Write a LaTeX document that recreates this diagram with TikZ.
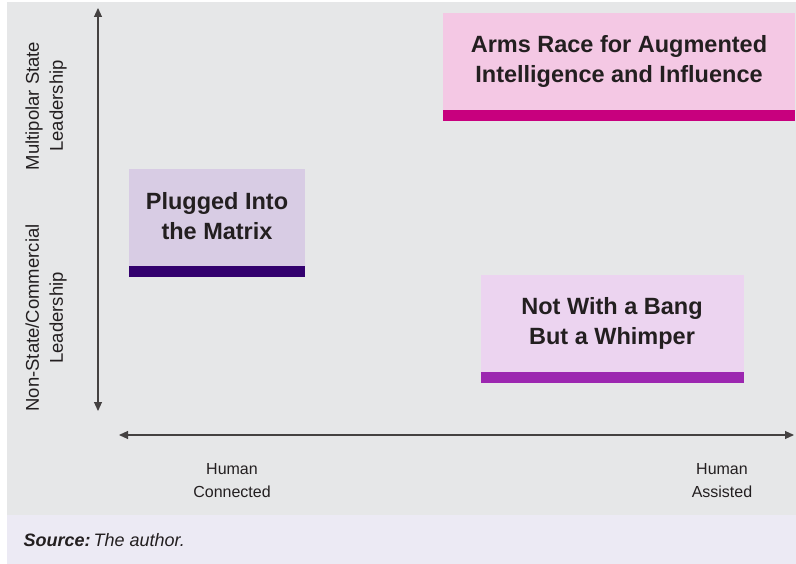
\documentclass[tikz,border=0pt]{standalone}
\usepackage{fontspec}
\setmainfont{Liberation Sans}
\usetikzlibrary{arrows.meta}
\definecolor{bggray}{HTML}{E6E7E8}
\definecolor{footbg}{HTML}{ECEAF4}
\definecolor{pinkbox}{HTML}{F4C8E4}
\definecolor{pinkbar}{HTML}{C8007E}
\definecolor{lavbox}{HTML}{D8CCE4}
\definecolor{lavbar}{HTML}{33006E}
\definecolor{violbox}{HTML}{ECD4F0}
\definecolor{violbar}{HTML}{9C27B0}
\definecolor{txt}{HTML}{231F20}
\tikzset{
  boxtitle/.style={font=\fontsize{23.5}{30}\selectfont\bfseries, text=txt, align=center},
  axislabel/.style={font=\fontsize{16}{23}\selectfont, text=txt, align=center},
  sidelabel/.style={font=\fontsize{18.5}{24}\selectfont, text=txt, align=center},
  axisarrow/.style={draw=txt!85, line width=1.1pt, {Triangle[length=9pt,width=8pt]}-{Triangle[length=9pt,width=8pt]}},
}
\begin{document}
\begin{tikzpicture}[x=1pt,y=-1pt]
\useasboundingbox (0,0) rectangle (796,564);
\fill[white] (0,0) rectangle (796,564);
\fill[bggray] (7,2) rectangle (796,515);
\fill[footbg] (7,515) rectangle (796,564);
% boxes
\fill[pinkbox] (443,13) rectangle (795,110);
\fill[pinkbar] (443,110) rectangle (795,121);
\node[boxtitle] (arms) at (619,61) {Arms Race for Augmented\\Intelligence and Influence};
\fill[lavbox] (129,169) rectangle (305,266);
\fill[lavbar] (129,266) rectangle (305,277);
\node[boxtitle] (plug) at (217,216) {Plugged Into\\the Matrix};
\fill[violbox] (481,275) rectangle (744,372);
\fill[violbar] (481,372) rectangle (744,383);
\node[boxtitle] (bang) at (612,323.5) {Not With a Bang\\But a Whimper};
% axes
\coordinate (vtop) at (98,8);
\coordinate (vbot) at (98,411);
\coordinate (hleft) at (119,435);
\coordinate (hright) at (794,435);
\draw[axisarrow] (vtop) -- (vbot);
\draw[axisarrow] (hleft) -- (hright);
\node[sidelabel, rotate=90] (multi) at (46,106) {Multipolar State\\Leadership};
\node[sidelabel, rotate=90] (nonstate) at (46,318) {Non-State/Commercial\\Leadership};
\node[axislabel] (hconn) at (232,481) {Human\\Connected};
\node[axislabel] (hass) at (722,481) {Human\\Assisted};
\node[anchor=west, font=\fontsize{18}{20}\selectfont\itshape, text=txt] (src) at (20,540) {\textbf{Source:}\,The author.};
\end{tikzpicture}
\end{document}
